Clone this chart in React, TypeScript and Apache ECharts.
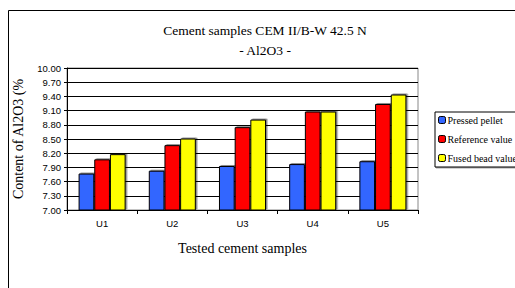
import React, { useEffect, useRef } from "react";
import * as echarts from "echarts";

const categories = ["U1", "U2", "U3", "U4", "U5"];
const pressedPellet = [7.77, 7.83, 7.93, 7.97, 8.03];
const referenceValue = [8.07, 8.37, 8.75, 9.08, 9.24];
const fusedBeadValue = [8.18, 8.51, 8.91, 9.08, 9.44];
const seriesNames = ["Pressed pellet", "Reference value", "Fused bead value"];
const seriesColors = ["#3366FF", "#FF0000", "#FFFF00"];

const SERIF = "Liberation Serif";
const SANS = "Liberation Sans";

export default function App() {
  const ref = useRef<HTMLDivElement>(null);
  useEffect(() => {
    if (!ref.current) return;
    const chart = echarts.init(ref.current, null, { renderer: "svg" });
    const values = [pressedPellet, referenceValue, fusedBeadValue];
    chart.setOption({
      animation: false,
      backgroundColor: "#ffffff",
      textStyle: { fontFamily: SERIF },
      title: {
        text: "Cement samples CEM II/B-W 42.5 N\n- Al2O3 -",
        left: 260,
        textAlign: "center",
        top: 15,
        textStyle: {
          fontFamily: SERIF,
          fontSize: 13.5,
          fontWeight: "normal",
          color: "#000",
          lineHeight: 20,
        },
      },
      graphic: [
        {
          type: "rect",
          shape: { x: 8.5, y: 10.5, width: 600, height: 400 },
          style: { fill: "none", stroke: "#000", lineWidth: 1 },
          silent: true,
        },
      ],
      legend: {
        orient: "vertical",
        left: 435,
        top: 112,
        itemWidth: 7,
        itemHeight: 7,
        itemGap: 9,
        padding: [3, 40, 4, 3],
        borderColor: "#000",
        borderWidth: 1,
        shadowColor: "rgba(0,0,0,0.35)",
        shadowOffsetX: 1,
        shadowOffsetY: 1,
        shadowBlur: 0,
        backgroundColor: "#fff",
        formatter: "{s|{name}}",
        textStyle: {
          fontFamily: SERIF,
          fontSize: 10,
          color: "#000",
          rich: { s: { fontFamily: SERIF, fontSize: 10, color: "#000", padding: [0, 0, 0, -3] } },
        },
        data: seriesNames.map((n) => ({
          name: n,
          itemStyle: { borderColor: "#000", borderWidth: 1 },
        })),
      },
      grid: {
        left: 67,
        top: 68,
        width: 351,
        height: 142,
        show: true,
        borderColor: "#888",
        borderWidth: 1,
      },
      xAxis: {
        type: "category",
        data: categories,
        axisLine: { lineStyle: { color: "#000", width: 1 } },
        axisTick: { show: true, length: 4, inside: false, lineStyle: { color: "#000" } },
        axisLabel: { fontFamily: SANS, fontSize: 9.5, color: "#000", margin: 8 },
        name: "Tested cement samples",
        nameLocation: "middle",
        nameGap: 31,
        nameTextStyle: { fontFamily: SERIF, fontSize: 14, color: "#000" },
      },
      yAxis: {
        type: "value",
        min: 7.0,
        max: 10.0,
        interval: 0.3,
        axisLine: { show: true, lineStyle: { color: "#000", width: 1 } },
        axisTick: { show: true, length: 3, lineStyle: { color: "#000" } },
        axisLabel: {
          fontFamily: SANS,
          fontSize: 9.5,
          color: "#000",
          margin: 6,
          formatter: (v: number) => v.toFixed(2),
        },
        splitLine: { show: true, lineStyle: { color: "#000", width: 1 } },
        name: "Content of Al2O3 (%",
        nameLocation: "middle",
        nameGap: 42,
        nameRotate: 90,
        nameTextStyle: { fontFamily: SERIF, fontSize: 14, color: "#000" },
      },
      series: seriesNames.map((n, i) => ({
        name: n,
        type: "bar",
        data: values[i],
        barGap: "0%",
        barCategoryGap: "33%",
        itemStyle: {
          color: seriesColors[i],
          borderColor: "#000",
          borderWidth: 1,
          shadowColor: "rgba(0,0,0,0.45)",
          shadowOffsetX: 1.5,
          shadowOffsetY: -1,
          shadowBlur: 0,
        },
      })),
    });
    return () => chart.dispose();
  }, []);
  return (
    <div
      ref={ref}
      style={{ position: "fixed", left: 0, top: 0, width: 515, height: 288 }}
    />
  );
}
